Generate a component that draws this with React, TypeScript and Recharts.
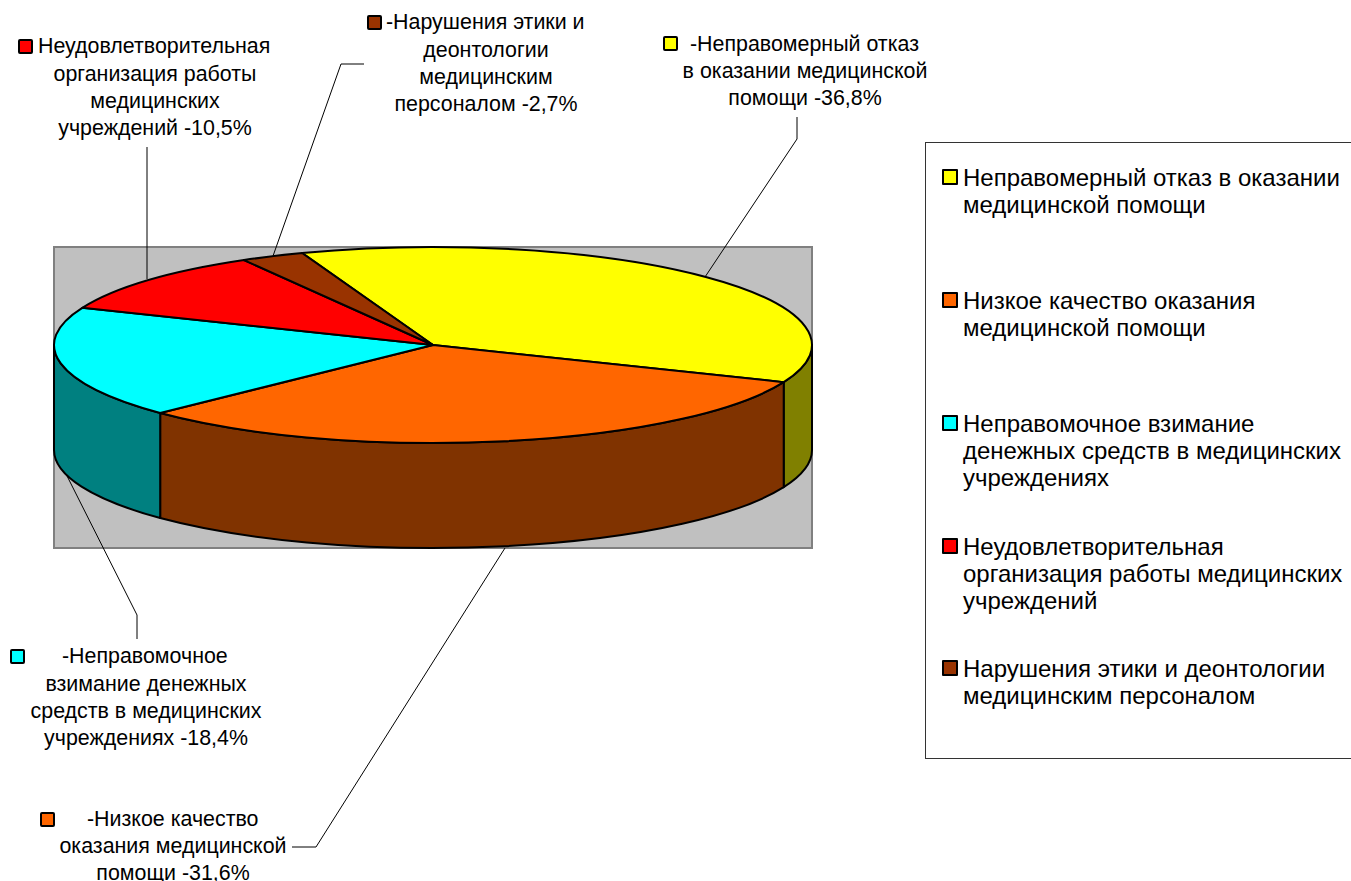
import { PieChart, Pie, Legend } from 'recharts'

const FONT = '"Liberation Sans", Arial, sans-serif'

const categories = [
  'Неправомерный отказ в оказании медицинской помощи',
  'Низкое качество оказания медицинской помощи',
  'Неправомочное взимание денежных средств в медицинских учреждениях',
  'Неудовлетворительная организация работы медицинских учреждений',
  'Нарушения этики и деонтологии медицинским персоналом',
]
const shares = [36.8, 31.6, 18.4, 10.5, 2.7]
const topColors = ['#FFFF00', '#FF6600', '#00FFFF', '#FF0000', '#993300']
const wallColors = ['#808000', '#803300', '#008080', '#800000', '#4D1A00']

const legendLines = [
  ['Неправомерный отказ в оказании', 'медицинской помощи'],
  ['Низкое качество оказания', 'медицинской помощи'],
  ['Неправомочное взимание', 'денежных средств в медицинских', 'учреждениях'],
  ['Неудовлетворительная', 'организация работы медицинских', 'учреждений'],
  ['Нарушения этики и деонтологии', 'медицинским персоналом'],
]
const legendTops = [165, 288, 411, 534, 656]

const topData = categories.map((name, i) => ({ name, value: shares[i], fill: topColors[i] }))
const wallData = categories.map((name, i) => ({ name, value: shares[i], fill: wallColors[i] }))

// pie looks tilted: squash the circle the library gives us into an ellipse
const RX = 379
const RY = 98
const DEPTH = 105
const CX = 433
const CY = 345
const START = 110.2
const LABEL_SIZE = 21.4

const px = (a: number) => CX + RX * Math.cos((a * Math.PI) / 180)
const py = (a: number) => CY - RY * Math.sin((a * Math.PI) / 180)

function TopSlice(props: any) {
  const { startAngle, endAngle, fill } = props
  const large = Math.abs(startAngle - endAngle) > 180 ? 1 : 0
  const d = `M${CX},${CY} L${px(startAngle)},${py(startAngle)} A${RX},${RY} 0 ${large} 1 ${px(endAngle)},${py(endAngle)} Z`
  return <path d={d} fill={fill} stroke="#000" strokeWidth={2} strokeLinejoin="round" />
}

function WallSlice(props: any) {
  const { startAngle, endAngle, fill } = props
  // only the front half of the rim is visible
  const lo = Math.max(endAngle, -180)
  const hi = Math.min(startAngle, 0)
  if (lo >= hi) return <g />
  const d =
    `M${px(lo)},${py(lo)} A${RX},${RY} 0 0 0 ${px(hi)},${py(hi)} ` +
    `L${px(hi)},${py(hi) + DEPTH} A${RX},${RY} 0 0 1 ${px(lo)},${py(lo) + DEPTH} Z`
  return <path d={d} fill={fill} stroke="#000" strokeWidth={2} strokeLinejoin="round" />
}

function LegendBox(props: any) {
  const items = (props.payload || []).filter((p: any) => p.type !== 'none')
  return (
    <div style={{ position: 'relative', width: 440, height: 615, border: '1px solid #333', background: '#fff', fontFamily: FONT, fontSize: 24, color: '#000' }}>
      {items.map((item: any, i: number) => (
        <div key={i}>
          <div style={{ position: 'absolute', left: 16, top: legendTops[i] - 142 + 3, width: 12, height: 12, background: item.color, border: '2px solid #000', borderRadius: 1 }} />
          {legendLines[i].map((line, j) => (
            <div key={j} style={{ position: 'absolute', left: 37, top: legendTops[i] - 142 + j * 27 - 2, lineHeight: '27px', whiteSpace: 'nowrap' }}>{line}</div>
          ))}
        </div>
      ))}
    </div>
  )
}

function Swatch({ x, y, fill }: { x: number; y: number; fill: string }) {
  return <rect x={x} y={y} width={13} height={13} fill={fill} stroke="#000" strokeWidth={2} rx={1} />
}

function Lines({ x, y, lines }: { x: number; y: number; lines: string[] }) {
  return (
    <text textAnchor="middle" fontFamily={FONT} fontSize={LABEL_SIZE} fill="#000">
      {lines.map((line, i) => (
        <tspan key={i} x={x} y={y + i * 27.2}>{line}</tspan>
      ))}
    </text>
  )
}

function Leader({ points }: { points: string }) {
  return <polyline points={points} fill="none" stroke="#000" strokeWidth={1} />
}

function Annotations() {
  return (
    <g>
      <Leader points="705,277 797,139 797,117" />
      <Leader points="273,256 341,64 364,64" />
      <Leader points="147,279 147,147" />
      <Leader points="60,462 137,615 137,639" />
      <Leader points="505,548 316,847 292,847" />

      <Swatch x={664} y={37} fill={topColors[0]} />
      <text x={690} y={51} fontFamily={FONT} fontSize={LABEL_SIZE}>-Неправомерный отказ</text>
      <Lines x={805} y={78} lines={['в оказании медицинской', 'помощи -36,8%']} />

      <Swatch x={368} y={16} fill={topColors[4]} />
      <text x={386} y={29} fontFamily={FONT} fontSize={LABEL_SIZE}>-Нарушения этики и</text>
      <Lines x={486} y={57} lines={['деонтологии', 'медицинским', 'персоналом -2,7%']} />

      <Swatch x={19} y={40} fill={topColors[3]} />
      <text x={38} y={53} fontFamily={FONT} fontSize={LABEL_SIZE}>Неудовлетворительная</text>
      <Lines x={155} y={80.5} lines={['организация работы', 'медицинских', 'учреждений -10,5%']} />

      <Swatch x={11} y={650} fill={topColors[2]} />
      <text x={62} y={663} fontFamily={FONT} fontSize={LABEL_SIZE}>-Неправомочное</text>
      <Lines x={146} y={691} lines={['взимание денежных', 'средств в медицинских', 'учреждениях -18,4%']} />

      <Swatch x={41} y={813} fill={topColors[1]} />
      <text x={87} y={826} fontFamily={FONT} fontSize={LABEL_SIZE}>-Низкое качество</text>
      <Lines x={173} y={853} lines={['оказания медицинской', 'помощи -31,6%']} />
    </g>
  )
}

export default function App() {
  return (
    <div style={{ position: 'fixed', left: 0, top: 0, width: 1351, height: 881, overflow: 'hidden', background: '#fff' }}>
      <PieChart width={1351} height={881} margin={{ top: 0, right: 0, bottom: 0, left: 0 }}>
        <rect x={54} y={247} width={758} height={301} fill="#C0C0C0" stroke="#808080" strokeWidth={2} />
        <Pie
          data={wallData}
          dataKey="value"
          nameKey="name"
          cx={CX}
          cy={CY}
          outerRadius={RX}
          startAngle={START}
          endAngle={START - 360}
          legendType="none"
          shape={WallSlice}
          isAnimationActive={false}
        />
        <Pie
          data={topData}
          dataKey="value"
          nameKey="name"
          cx={CX}
          cy={CY}
          outerRadius={RX}
          startAngle={START}
          endAngle={START - 360}
          shape={TopSlice}
          isAnimationActive={false}
        />
        <Annotations />
        <Legend content={LegendBox} itemSorter={null} wrapperStyle={{ left: 925, top: 142, width: 440, height: 617 }} />
      </PieChart>
    </div>
  )
}
